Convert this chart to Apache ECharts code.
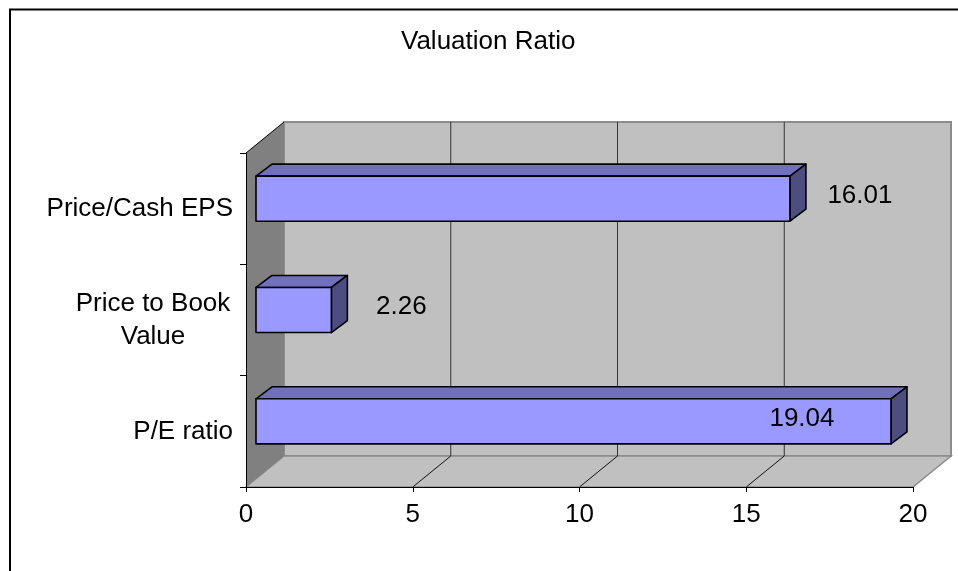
<!DOCTYPE html>
<html>
<head>
<meta charset="utf-8">
<script src="https://cdn.jsdelivr.net/npm/echarts@6/dist/echarts.min.js"></script>
<style>
html,body{margin:0;padding:0;background:#fff;}
#chart{width:958px;height:571px;}
</style>
</head>
<body>
<div id="chart"></div>
<script>
// ---- data ----
var titleText = 'Valuation Ratio';
var categories = ['P/E ratio', 'Price to Book\nValue', 'Price/Cash EPS'];
var values = [19.04, 2.26, 16.01];
var labels = ['19.04', '2.26', '16.01'];
var xTicks = [0, 5, 10, 15, 20];

// ---- style ----
var FONT = '"Liberation Sans", Arial, sans-serif';
var FS = 26;
var DX = 38, DY = -31;          // depth of the 3D box (px)
var BAR_OFF_X = 10, BAR_OFF_Y = -10;  // bar front-face offset
var BAR_DX = 16, BAR_DY = -12;   // bar depth

var chart = echarts.init(document.getElementById('chart'), null, {renderer: 'canvas'});

function renderWalls(params, api) {
  var cs = params.coordSys;
  var x = cs.x, y = cs.y, w = cs.width, h = cs.height;
  var children = [];
  children.push({type: 'rect', shape: {x: x + DX, y: y + DY, width: w, height: h},
    style: {fill: '#c0c0c0', stroke: '#8c8c8c', lineWidth: 2}});
  children.push({type: 'polygon', shape: {points: [[x, y + h], [x + w, y + h], [x + w + DX, y + h + DY], [x + DX, y + h + DY]]},
    style: {fill: '#c0c0c0', stroke: '#8c8c8c', lineWidth: 1.5}});
  children.push({type: 'polygon', shape: {points: [[x, y], [x + DX, y + DY], [x + DX, y + h + DY], [x, y + h]]},
    style: {fill: '#808080'}});
  children.push({type: 'line', shape: {x1: x, y1: y, x2: x + DX, y2: y + DY},
    style: {stroke: '#000', lineWidth: 1}});
  for (var k = 1; k < xTicks.length - 1; k++) {
    var p = api.coord([xTicks[k], 0]);
    children.push({type: 'line', shape: {x1: p[0] + DX, y1: y + DY, x2: p[0] + DX, y2: y + h + DY},
      style: {stroke: '#333', lineWidth: 1}});
    children.push({type: 'line', shape: {x1: p[0], y1: y + h, x2: p[0] + DX, y2: y + h + DY},
      style: {stroke: '#111', lineWidth: 1}});
  }
  return {type: 'group', children: children};
}

function renderBar(params, api) {
  var v = api.value(0), i = api.value(1);
  var s = api.coord([0, i]);
  var e = api.coord([v, i]);
  var band = api.size([0, 1])[1];
  var h = band * 0.405;
  var x0 = s[0] + BAR_OFF_X, x1 = e[0] + BAR_OFF_X;
  var yc = s[1] + BAR_OFF_Y;
  var top = yc - h / 2, bot = yc + h / 2;
  var edge = {stroke: '#000', lineWidth: 1.6, lineJoin: 'round'};
  var wallRight = api.coord([xTicks[xTicks.length - 1], i])[0] + DX;
  var lx = x1 + 70;
  if (lx + 32 > wallRight) { lx = x1 - 89; }
  return {type: 'group', children: [
    {type: 'polygon', shape: {points: [[x0, top], [x0 + BAR_DX, top + BAR_DY], [x1 + BAR_DX, top + BAR_DY], [x1, top]]},
      style: Object.assign({fill: '#7070bf'}, edge)},
    {type: 'polygon', shape: {points: [[x1, top], [x1 + BAR_DX, top + BAR_DY], [x1 + BAR_DX, bot + BAR_DY], [x1, bot]]},
      style: Object.assign({fill: '#4d4d80'}, edge)},
    {type: 'rect', shape: {x: x0, y: top, width: x1 - x0, height: h},
      style: Object.assign({fill: '#9999ff'}, edge)},
    {type: 'text', x: lx, y: yc - 3,
      style: {text: labels[params.dataIndex], fill: '#000', font: FS + 'px ' + FONT, align: 'center', verticalAlign: 'middle'}}
  ]};
}

var option = {
  animation: false,
  backgroundColor: '#fff',
  title: {
    text: titleText, left: 401, top: 29, padding: 0,
    textStyle: {fontSize: FS, fontWeight: 'normal', color: '#000', fontFamily: FONT}
  },
  graphic: [{
    type: 'rect', shape: {x: 10, y: 9.5, width: 2000, height: 2000},
    style: {fill: 'none', stroke: '#000', lineWidth: 2}, z: 100
  }],
  grid: {left: 246, right: 45, top: 153, bottom: 84, containLabel: false},
  xAxis: {
    type: 'value', min: 0, max: 20, interval: 5, z: 5,
    axisLine: {show: true, lineStyle: {color: '#000', width: 1}},
    axisTick: {show: true, length: 5, lineStyle: {color: '#000'}},
    splitLine: {show: false},
    axisLabel: {fontSize: FS, color: '#000', fontFamily: FONT, margin: 15,
      formatter: function (v) { return String(v); }}
  },
  yAxis: {
    type: 'category', data: categories, z: 5,
    axisLine: {show: true, lineStyle: {color: '#000', width: 1}},
    axisTick: {show: true, length: 6, lineStyle: {color: '#000'}},
    splitLine: {show: false},
    axisLabel: {fontSize: FS, color: '#000', fontFamily: FONT, margin: 13, lineHeight: 33,
      formatter: function (v) {
        if (v.indexOf('\n') >= 0) {
          return v.split('\n').map(function (t) { return '{c|' + t + '}'; }).join('\n');
        }
        return v;
      },
      rich: {c: {width: 160, align: 'center', fontSize: FS, lineHeight: 33, fontFamily: FONT, color: '#000'}}
    }
  },
  series: [
    {type: 'custom', renderItem: renderWalls, data: [[0, 0]], z: 1, silent: true,
      encode: {x: 0, y: 1}, clip: false},
    {type: 'custom', renderItem: renderBar, z: 3,
      data: values.map(function (v, i) { return [v, i]; }),
      encode: {x: 0, y: 1}, clip: false}
  ]
};
chart.setOption(option);
</script>
</body>
</html>
